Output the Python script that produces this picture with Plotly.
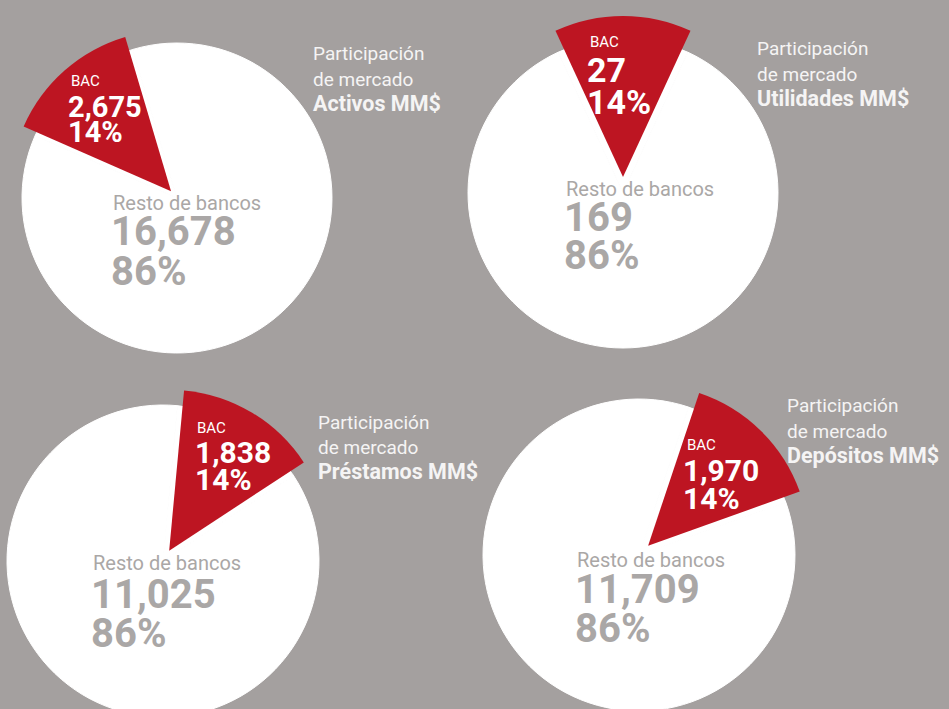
import math
import plotly.graph_objects as go

# ---------------- data ----------------
panel_titles = ["Activos MM$", "Utilidades MM$", "Préstamos MM$", "Depósitos MM$"]
slice_labels = ["BAC", "Resto de bancos"]
bac_values = [2675, 27, 1838, 1970]
resto_values = [16678, 169, 11025, 11709]
bac_pct = ["14%", "14%", "14%", "14%"]
resto_pct = ["86%", "86%", "86%", "86%"]
title_lines = ["Participación", "de mercado"]

# ---------------- style / layout ----------------
W, H = 949, 720
BG = "#a4a09f"
RED = "#bd1522"
GRAY_TXT = "#aaa7a6"
TITLE_TXT = "#f5f4f4"
FONT = "Roboto"

# per panel pixel geometry: centre, white radius, red radius, pull (px), rotation
centers = [(177, 198), (623, 193), (163, 561), (639, 555)]
r_white = [155, 155, 156, 156]
r_red = [161, 161, 161, 161]
pull_px = [9, 16, 12, 13]
rotations = [-66.3, -24.8, 5.3, 18.5]

# text anchors (left x, middle y) per panel
bac_lbl_pos = [(70, 81), (589, 42), (196, 428), (686, 445)]
bac_num_pos = [(67, 107), (586, 70), (194, 452), (682, 470)]
bac_pct_pos = [(67, 132), (586, 102), (194, 479), (682, 498)]
bac_sizes = [29, 34, 30, 30]
resto_lbl_pos = [(112, 203), (565, 189), (92, 563), (576, 560)]
resto_num_pos = [(110, 232), (563, 217), (90, 594), (574, 589)]
resto_pct_pos = [(110, 271), (563, 255), (90, 633), (574, 628)]
title_pos = [(312, (54, 79, 104)), (756, (49, 75, 99)),
             (317, (422, 447, 471)), (786, (405, 431, 455))]


def px(x):
    return min(max(x / W, 0), 1)


def py(y):
    return min(max(1 - y / H, 0), 1)


fig = go.Figure()
TRANSPARENT = "rgba(0,0,0,0)"

for i in range(4):
    cx, cy = centers[i]
    vals = [bac_values[i], resto_values[i]]
    share = vals[0] / sum(vals)
    # white full disc
    rw = r_white[i]
    fig.add_trace(go.Pie(
        labels=slice_labels, values=vals, sort=False, direction="clockwise",
        rotation=rotations[i],
        marker=dict(colors=["white", "white"], line=dict(width=1, color="white")),
        textinfo="none", hoverinfo="skip", showlegend=False,
        domain=dict(x=[px(cx - rw), px(cx + rw)], y=[py(cy + rw), py(cy - rw)]),
    ))
    # red BAC slice: larger radius, pie centre shifted along the slice bisector
    bis = math.radians(rotations[i] + 180 * share)
    ox = cx + pull_px[i] * math.sin(bis)
    oy = cy - pull_px[i] * math.cos(bis)
    rr = r_red[i]
    fig.add_trace(go.Pie(
        labels=slice_labels, values=vals, sort=False, direction="clockwise",
        rotation=rotations[i],
        marker=dict(colors=[RED, TRANSPARENT], line=dict(width=0)),
        textinfo="none", hoverinfo="skip", showlegend=False,
        domain=dict(x=[px(ox - rr), px(ox + rr)], y=[py(oy + rr), py(oy - rr)]),
    ))

annotations = []


def add_text(text, pos, size, color, bold=False):
    t = f"<b>{text}</b>" if bold else text
    annotations.append(dict(
        text=t, x=pos[0] / W, y=1 - pos[1] / H, xref="paper", yref="paper",
        xanchor="left", yanchor="middle", showarrow=False, borderpad=0,
        font=dict(family=FONT, size=size, color=color),
    ))


for i in range(4):
    add_text(slice_labels[0], bac_lbl_pos[i], 15, "white")
    add_text(f"{bac_values[i]:,}", bac_num_pos[i], bac_sizes[i], "white", bold=True)
    add_text(bac_pct[i], bac_pct_pos[i], bac_sizes[i], "white", bold=True)
    add_text(slice_labels[1], resto_lbl_pos[i], 20, GRAY_TXT)
    add_text(f"{resto_values[i]:,}", resto_num_pos[i], 40, GRAY_TXT, bold=True)
    add_text(resto_pct[i], resto_pct_pos[i], 40, GRAY_TXT, bold=True)
    tx, tys = title_pos[i]
    add_text(title_lines[0], (tx, tys[0]), 19, TITLE_TXT)
    add_text(title_lines[1], (tx, tys[1]), 19, TITLE_TXT)
    add_text(panel_titles[i], (tx, tys[2]), 21.5, TITLE_TXT, bold=True)

fig.update_layout(
    width=W, height=H, autosize=False,
    margin=dict(l=0, r=0, t=0, b=0, pad=0),
    paper_bgcolor=BG, plot_bgcolor=BG,
    annotations=annotations,
    showlegend=False,
)

fig.write_html(
    "out.html",
    config={"displayModeBar": False, "staticPlot": True},
    post_script="document.body.style.margin='0';document.body.style.overflow='hidden';"
                "document.documentElement.style.overflow='hidden';"
                "document.body.style.background='" + BG + "';",
)
